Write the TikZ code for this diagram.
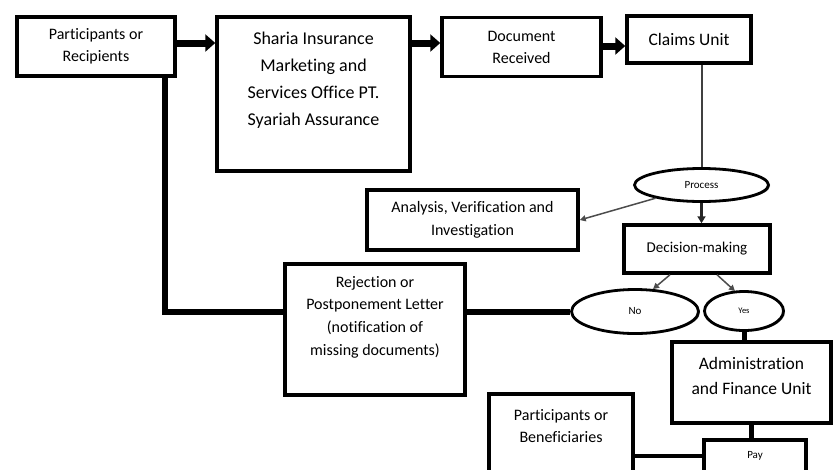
\documentclass[tikz,border=0pt]{standalone}
\usepackage{fontspec}
\setmainfont{Carlito}[Ligatures=NoCommon]
\usetikzlibrary{arrows.meta,shapes.geometric,shadows}

\newcommand\fsz[2]{\fontsize{#1}{#2}\selectfont}

\tikzset{
  box/.style={draw, line width=3.5pt, fill=white, inner sep=0pt, align=center,
    drop shadow={shadow xshift=1.5pt, shadow yshift=-1.5pt, fill=black!60, opacity=.7}},
  oval/.style={ellipse, draw, line width=2.8pt, fill=white, inner sep=0pt,
    drop shadow={shadow xshift=1.5pt, shadow yshift=-1pt, fill=black!60, opacity=.7}},
  txt/.style={align=center, inner sep=0pt},
  bigarr/.style={line width=7pt, -{Triangle[length=10pt,width=17pt]}},
  midarr/.style={line width=2.5pt, black!85, -{Triangle[length=7pt,width=8pt]}},
  thinarr/.style={line width=1.5pt, black!70, -{Triangle[length=6pt,width=6pt]}},
  link/.style={line width=#1},
}

\begin{document}
\begin{tikzpicture}[x=1pt,y=-1pt]
\useasboundingbox (0,0) rectangle (834,469);

% boxes of the claim flow
\node[box, minimum width=158pt, minimum height=59pt, font=\fsz{16}{22}] (part) at (96,46.5) {Participants or\\Recipients};
\node[box, minimum width=193pt, minimum height=154pt] (sharia) at (313.5,94) {};
\node[txt, font=\fsz{18}{27}] (sharia-t) at (313.5,80) {Sharia Insurance\\Marketing and\\Services Office PT.\\Syariah Assurance};
\node[box, minimum width=159pt, minimum height=59pt, font=\fsz{16}{22}] (doc) at (521.5,47) {Document\\Received};
\node[box, minimum width=124pt, minimum height=47pt, font=\fsz{17.5}{22}] (claims) at (689,39.5) {Claims Unit};
\node[oval, minimum width=134pt, minimum height=33pt, font=\fsz{11}{13}] (process) at (701.5,185) {Process};
\node[box, minimum width=211pt, minimum height=60pt, font=\fsz{16}{23}] (analysis) at (472.5,220) {Analysis, Verification and\\Investigation};
\node[box, minimum width=146pt, minimum height=48pt, font=\fsz{15}{18}] (decision) at (697,249) {Decision-making};
\node[oval, minimum width=127pt, minimum height=44pt, font=\fsz{11}{13}] (no) at (635,311.5) {No};
\node[oval, minimum width=79pt, minimum height=39pt, font=\fsz{8.5}{10}] (yes) at (744,311) {Yes};
\node[box, minimum width=180pt, minimum height=131pt] (reject) at (375,329.5) {};
\node[txt, font=\fsz{16}{22.7}] (reject-t) at (375,317) {Rejection or\\Postponement Letter\\(notification of\\missing documents)};
\node[box, minimum width=159pt, minimum height=81pt] (admin) at (751.5,382.5) {};
\node[txt, font=\fsz{17.5}{25}] (admin-t) at (751.5,375.5) {Administration\\and Finance Unit};
\node[box, minimum width=144pt, minimum height=86pt] (benef) at (561,437) {};
\node[txt, font=\fsz{16}{22}] (benef-t) at (561,426) {Participants or\\Beneficiaries};
\node[box, minimum width=102pt, minimum height=32pt, font=\fsz{11}{13}] (pay) at (755,456) {Pay};

% rows for the top arrows and the bend of the return line
\coordinate (rowA) at (0,43);
\coordinate (rowB) at (0,46);
\coordinate (bend) at (165,311.5);

\draw[bigarr] (part.east |- rowA) -- (sharia.west |- rowA);
\draw[bigarr] (sharia.east |- rowA) -- (doc.west |- rowA);
\draw[bigarr] (doc.east |- rowB) -- (claims.west |- rowB);
\draw[link=2pt, black!75] (process.north |- claims.south) -- (process.north);
\draw[thinarr] (process) -- (analysis.east);
\draw[midarr] (process.south) -- (process.south |- decision.north);
\draw[thinarr] ([xshift=-27pt]decision.south) -- ([xshift=18pt,yshift=-1pt]no.north);
\draw[thinarr] ([xshift=20pt]decision.south) -- ([xshift=-9pt,yshift=-1pt]yes.north);
\draw[link=5pt] (yes.south) -- (yes.south |- admin.north);
\draw[link=5pt] (admin.south) -- (admin.south |- pay.north);
\draw[link=6pt] (no.west) -- (no.west -| reject.east);
\draw[link=6pt] (reject.west |- bend) -- (bend) -- (bend |- part.south);
\draw[link=4pt] (benef.east |- pay) -- (pay.west);
\end{tikzpicture}
\end{document}
